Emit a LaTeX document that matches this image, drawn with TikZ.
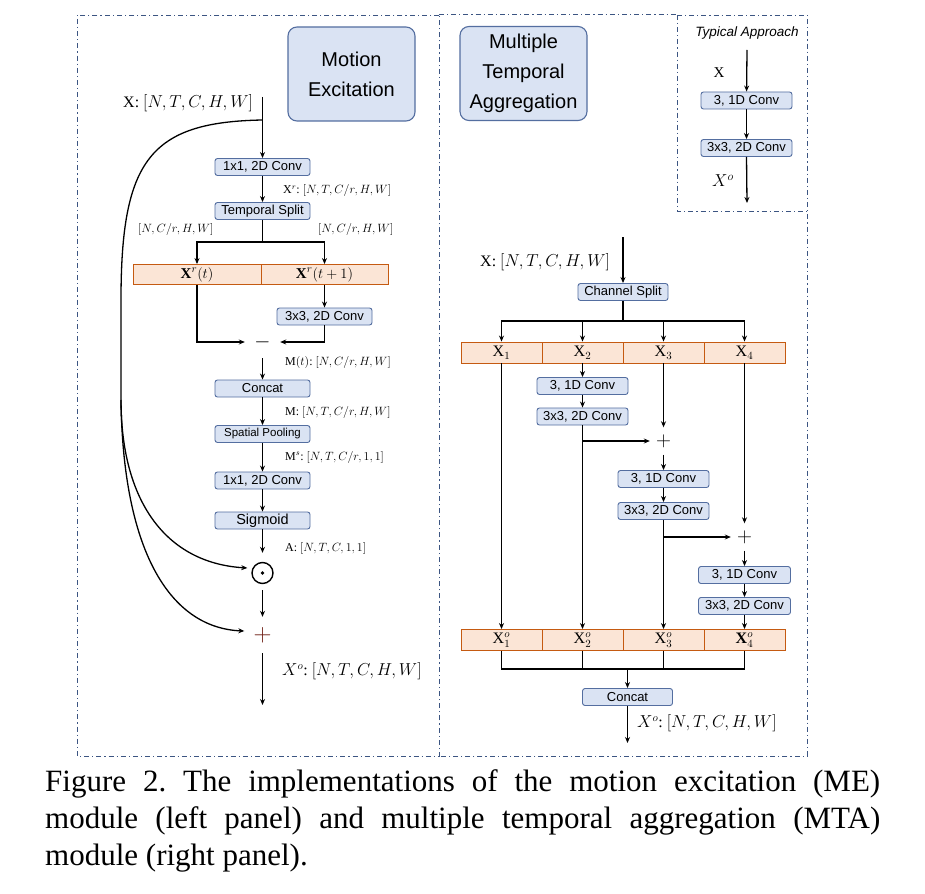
\documentclass[tikz,border=0pt]{standalone}
\usepackage{fontspec}
\setmainfont{Liberation Serif}
\setsansfont{Liberation Sans}
\usetikzlibrary{arrows.meta}
\definecolor{boxf}{RGB}{218,227,243}
\definecolor{boxd}{RGB}{84,110,160}
\definecolor{barf}{RGB}{251,229,214}
\definecolor{bard}{RGB}{197,90,17}
\definecolor{frm}{RGB}{60,85,130}
\definecolor{pdark}{RGB}{110,30,20}
\frenchspacing
\begin{document}
\begin{tikzpicture}[x=1pt,y=-1pt,
 blk/.style={draw=boxd, fill=boxf, rounded corners=2.5pt, line width=0.9pt, minimum width=95pt, minimum height=17pt, inner sep=0pt, font=\sffamily\fontsize{13}{13}\selectfont},
 ttl/.style={draw=boxd, fill=boxf, rounded corners=9pt, line width=1.1pt, minimum width=127pt, minimum height=94pt, align=center, font=\sffamily\fontsize{20}{30}\selectfont},
 cell/.style={draw=bard, fill=barf, line width=0.9pt, minimum height=20pt, inner sep=0pt},
 arr/.style={-{Stealth[length=6pt,width=5pt]}, line width=1.3pt},
 ln/.style={line width=1.3pt},
 panelframe/.style={draw=frm, line width=0.9pt, dash pattern=on 5pt off 3pt on 1.2pt off 3pt},
 lbl/.style={anchor=west, inner sep=0pt, font=\fontsize{12}{12}\selectfont},
 lblb/.style={anchor=west, inner sep=0pt, font=\fontsize{16}{16}\selectfont},
 opnode/.style={inner sep=0pt, font=\fontsize{21}{21}\selectfont},
 caption/.style={anchor=base west, inner sep=0pt, font=\fontsize{31}{37}\selectfont},
]
\path[use as bounding box, fill=white] (0,0) rectangle (925,893);

% frames
\draw[panelframe] (439,15) -- (77,15) -- (77,756) -- (439,756) -- cycle;
\draw[panelframe] (439,14) -- (677,14);
\draw[panelframe] (677,15) -- (807,15) -- (807,756) -- (439,756);
\draw[panelframe] (677,15) -- (677,211) -- (807,211);

% ---------------- left panel ----------------
\node[ttl] (me) at (351.5,74) {Motion\\Excitation};
\node[lblb] (xinL) at (123,103) {X: $[N,T,C,H,W]$};
\coordinate (inL) at (262.5,97);
\node[blk] (c1) at (262.5,167) {1x1, 2D Conv};
\node[lbl] (lxr) at (283,191) {X$^r$: $[N,T,C/r,H,W]$};
\node[blk] (ts) at (262.5,211) {Temporal Split};
\node[lbl] (ll) at (138,230) {$[N,C/r,H,W]$};
\node[lbl] (lr) at (318,230) {$[N,C/r,H,W]$};
\coordinate (jL) at (262.5,242);
\node[cell, minimum width=128pt, font=\fontsize{15}{15}\selectfont] (xa) at (197,274.5) {$\mathbf{X}^r(t)$};
\node[cell, minimum width=127pt, font=\fontsize{15}{15}\selectfont] (xb) at (324.5,274.5) {$\mathbf{X}^r(t+1)$};
\node[blk] (c3) at (324.5,316.5) {3x3, 2D Conv};
\node[opnode, minimum width=35pt, minimum height=32pt] (mi) at (262.5,342) {$-$};
\node[lbl] (lmt) at (285,362) {M$(t)$: $[N,C/r,H,W]$};
\node[blk] (cc) at (262.5,388.5) {Concat};
\node[lbl] (lm) at (285,412) {M: $[N,T,C/r,H,W]$};
\node[blk, font=\sffamily\fontsize{11.5}{12}\selectfont] (sp) at (262.5,434) {Spatial Pooling};
\node[lbl] (lms) at (285,457) {M$^s$: $[N,T,C/r,1,1]$};
\node[blk] (c4) at (262.5,480.5) {1x1, 2D Conv};
\node[blk, font=\sffamily\fontsize{14.5}{14}\selectfont] (sg) at (262.5,520.5) {Sigmoid};
\node[lbl] (la) at (285,548) {A: $[N,T,C,1,1]$};
\node[circle, draw, line width=1.4pt, minimum size=21pt, inner sep=0pt] (od) at (262.5,573) {};
\fill (od.center) circle (1.8);
\node[opnode, minimum width=36pt, minimum height=36pt, text=pdark, font=\fontsize{24}{24}\selectfont] (pl) at (262.5,635) {$+$};
\coordinate (outL) at (262.5,705);
\node[lblb] (lxo) at (282,671) {$X^o$: $[N,T,C,H,W]$};

\draw[arr] (inL) -- (c1);
\draw[arr] (c1) -- (ts);
\draw[ln] (ts.south) -- (jL);
\draw[arr] (jL) -| (xa.north);
\draw[arr] (jL) -| (xb.north);
\draw[arr] (xa.south) |- (mi.west);
\draw[arr] (xb.south) -- (c3.north);
\draw[arr] (c3.south) |- (mi.east);
\draw[arr] (mi.south) -- (cc.north);
\draw[arr] (cc) -- (sp);
\draw[arr] (sp) -- (c4);
\draw[arr] (c4) -- (sg);
\draw[arr] (sg.south) -- ([yshift=9pt]od.north);
\draw[arr] ([yshift=-6pt]od.south) -- (pl.north);
\draw[arr] (pl.south) -- (outL);

\coordinate (sk) at (262.5,120);
\coordinate (kv) at (121,300);
\coordinate (kn) at (121,400);
\draw[arr] (sk) .. controls (150,122) and (121,160) .. (kv) -- (kn) .. controls (121,500) and (165,563) .. ([xshift=-4pt,yshift=5pt]od.west);
\draw[arr] (kn) .. controls (123,555) and (172,628) .. ([yshift=4pt]pl.west);

% ---------------- right panel ----------------
\node[ttl] (mta) at (523.5,73.5) {Multiple\\Temporal\\Aggregation};

% typical approach
\node[inner sep=0pt, font=\sffamily\itshape\fontsize{13.5}{14}\selectfont] (ta) at (747,33) {Typical Approach};
\node[inner sep=0pt, font=\fontsize{15}{15}\selectfont] (tx) at (719,73) {X};
\coordinate (tin) at (747,50);
\node[blk, minimum width=91pt] (t1) at (746.5,100.5) {3, 1D Conv};
\node[blk, minimum width=91pt] (t2) at (746.5,148) {3x3, 2D Conv};
\node[inner sep=0pt, font=\fontsize{17}{17}\selectfont] (txo) at (723,181) {$X^o$};
\coordinate (tout) at (747,203);
\draw[arr] (tin) -- (t1);
\draw[arr] (t1) -- (t2);
\draw[arr] (t2.south) -- (tout);

% main MTA
\node[lblb] (xinR) at (480,262) {X: $[N,T,C,H,W]$};
\coordinate (inR) at (623,237);
\node[blk, minimum width=90pt] (cs) at (623,292) {Channel Split};
\coordinate (jR) at (623,321);
\foreach \n/\x/\t in {x1/501.5/1, x2/582.5/2, x3/663.5/3, x4/744.5/4}
  \node[cell, minimum width=81pt, minimum height=21pt, font=\fontsize{16}{16}\selectfont] (\n) at (\x,352.5) {$\mathrm{X}_{\t}$};
\node[blk, minimum width=91pt] (b21) at (582.5,386) {3, 1D Conv};
\node[blk, minimum width=91pt] (b22) at (582.5,416.5) {3x3, 2D Conv};
\node[opnode, minimum size=27pt] (p3) at (663.5,441) {$+$};
\node[blk, minimum width=91pt] (b31) at (663.5,479) {3, 1D Conv};
\node[blk, minimum width=91pt] (b32) at (663.5,511) {3x3, 2D Conv};
\node[opnode, minimum size=27pt] (p4) at (744.5,537) {$+$};
\node[blk, minimum width=92pt] (b41) at (744.5,575) {3, 1D Conv};
\node[blk, minimum width=92pt] (b42) at (744.5,606) {3x3, 2D Conv};
\foreach \n/\x/\t in {xo1/501.5/1, xo2/582.5/2, xo3/663.5/3}
  \node[cell, minimum width=81pt, minimum height=21pt, font=\fontsize{16}{16}\selectfont] (\n) at (\x,640) {$\mathrm{X}^{o}_{\t}$};
\node[cell, minimum width=81pt, minimum height=21pt, font=\fontsize{16}{16}\selectfont] (xo4) at (744.5,640) {$\mathbf{X}^{o}_{4}$};
\coordinate (jB) at (627.5,669);
\node[blk, minimum width=90pt] (cb) at (627.5,697) {Concat};
\coordinate (outR) at (627.5,743);
\node[lblb] (lxoR) at (637,723) {$X^o$: $[N,T,C,H,W]$};

\draw[arr] (inR) -- (cs);
\draw[ln] (cs.south) -- (jR);
\draw[arr] (jR) -| (x1.north);
\draw[arr] (jR) -| (x2.north);
\draw[arr] (jR) -| (x3.north);
\draw[arr] (jR) -| (x4.north);
\draw[arr] (x1.south) -- (xo1.north);
\draw[arr] (x2.south) -- (b21.north);
\draw[arr] (b21) -- (b22);
\draw[arr] (b22.south) -- (xo2.north);
\draw[arr] (b22.south |- p3) -- (p3.west);
\draw[arr] (x3.south) -- (p3.north);
\draw[arr] (p3.south) -- (b31.north);
\draw[arr] (b31) -- (b32);
\draw[arr] (b32.south) -- (xo3.north);
\draw[arr] (b32.south |- p4) -- (p4.west);
\draw[arr] (x4.south) -- (p4.north);
\draw[arr] (p4.south) -- (b41.north);
\draw[arr] (b41) -- (b42);
\draw[arr] (b42.south) -- (xo4.north);
\draw[ln] (xo1.south) |- (xo4.south |- jB) -- (xo4.south);
\draw[ln] (xo2.south) -- (xo2.south |- jB);
\draw[ln] (xo3.south) -- (xo3.south |- jB);
\draw[arr] (jB) -- (cb.north);
\draw[arr] (cb.south) -- (outR);

% caption
\node[caption] (cap1) at (45,791) {\makebox[835pt][s]{Figure 2. The implementations of the motion excitation (ME)}};
\node[caption] (cap2) at (45,828) {\makebox[835pt][s]{module (left panel) and multiple temporal aggregation (MTA)}};
\node[caption] (cap3) at (45,865) {module (right panel).};
\end{tikzpicture}
\end{document}
